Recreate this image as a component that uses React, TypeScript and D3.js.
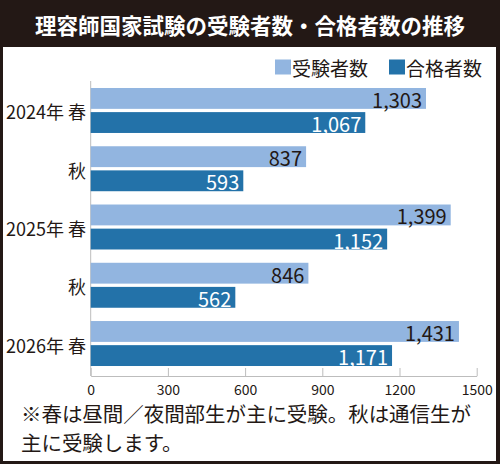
import React, { useRef, useEffect } from 'react';
import * as d3 from 'd3';

const categories = ["2024年 春", "秋", "2025年 春", "秋", "2026年 春"];
const examinees = [1303, 837, 1399, 846, 1431];
const passers = [1067, 593, 1152, 562, 1171];
const xTicks = [0, 300, 600, 900, 1200, 1500];
const seriesNames = ["受験者数", "合格者数"];
const title = "理容師国家試験の受験者数・合格者数の推移";
const noteLines = ["※春は昼間／夜間部生が主に受験。秋は通信生が", "主に受験します。"];

const FONT = "'Noto Sans CJK JP', 'Noto Sans', sans-serif";
const DARK = "#231815";
const LIGHT_BLUE = "#92b5e0";
const DARK_BLUE = "#2372a9";
const AXIS_GRAY = "#bdbdbd";

function App() {
  const svgRef = useRef(null);

  useEffect(() => {
    const svg = d3.select(svgRef.current);
    svg.selectAll("*").remove();

    const width = 500;
    const height = 464;

    // frame + title bar
    svg.append("rect").attr("width", width).attr("height", height).attr("fill", DARK);
    svg.append("rect")
      .attr("x", 3).attr("y", 47)
      .attr("width", 493).attr("height", 414)
      .attr("fill", "#fff");

    svg.append("text")
      .attr("x", 250).attr("y", 24)
      .attr("text-anchor", "middle")
      .attr("dominant-baseline", "central")
      .attr("font-family", FONT)
      .attr("font-weight", "bold")
      .attr("font-size", 21.5)
      .attr("fill", "#fff")
      .text(title);

    const x = d3.scaleLinear().domain([0, 1500]).range([90.7, 476.7]);

    const y = d3.scaleBand()
      .domain(d3.range(categories.length))
      .range([81, 373])
      .paddingInner(0.228)
      .paddingOuter(0.12);

    const sub = d3.scaleBand()
      .domain(seriesNames)
      .range([0, y.bandwidth()])
      .paddingInner(0.135);

    const series = [
      { name: seriesNames[0], values: examinees, color: LIGHT_BLUE, label: DARK },
      { name: seriesNames[1], values: passers, color: DARK_BLUE, label: "#fff" },
    ];

    // y axis line
    svg.append("line")
      .attr("x1", x(0)).attr("x2", x(0))
      .attr("y1", 81).attr("y2", 376)
      .attr("stroke", AXIS_GRAY).attr("stroke-width", 1);

    series.forEach(s => {
      const g = svg.append("g");
      g.selectAll("rect")
        .data(s.values)
        .enter().append("rect")
        .attr("x", x(0))
        .attr("y", (d, i) => y(i) + sub(s.name))
        .attr("width", d => x(d) - x(0))
        .attr("height", sub.bandwidth())
        .attr("fill", s.color);

      g.selectAll("text")
        .data(s.values)
        .enter().append("text")
        .attr("x", d => x(d) - 4)
        .attr("y", (d, i) => y(i) + sub(s.name) + sub.bandwidth() / 2 + 1)
        .attr("text-anchor", "end")
        .attr("dominant-baseline", "central")
        .attr("font-family", FONT)
        .attr("font-size", 20)
        .attr("fill", s.label)
        .text(d => d3.format(",")(d));
    });

    // category labels
    svg.append("g")
      .selectAll("text")
      .data(categories)
      .enter().append("text")
      .attr("x", 86)
      .attr("y", (d, i) => y(i) + y.bandwidth() / 2 + 1)
      .attr("text-anchor", "end")
      .attr("dominant-baseline", "central")
      .attr("font-family", FONT)
      .attr("font-size", 18)
      .attr("fill", DARK)
      .text(d => d);

    // x axis
    const xAxis = svg.append("g")
      .attr("transform", "translate(0,376)")
      .call(d3.axisBottom(x).tickValues(xTicks).tickSizeInner(-8).tickSizeOuter(0).tickPadding(9).tickFormat(d3.format("d")));
    xAxis.select(".domain").attr("stroke", AXIS_GRAY);
    xAxis.selectAll(".tick line").attr("stroke", AXIS_GRAY);
    xAxis.selectAll(".tick text")
      .attr("font-family", FONT)
      .attr("font-size", 14)
      .attr("fill", DARK);

    // legend
    const legend = svg.append("g")
      .selectAll("g")
      .data(series)
      .enter().append("g")
      .attr("transform", (d, i) => `translate(${i === 0 ? 275 : 389},0)`);
    legend.append("rect")
      .attr("x", 0).attr("y", 59.5)
      .attr("width", 16).attr("height", 15)
      .attr("fill", d => d.color);
    legend.append("text")
      .attr("x", 17).attr("y", 67)
      .attr("dominant-baseline", "central")
      .attr("font-family", FONT)
      .attr("font-size", 19)
      .attr("fill", DARK)
      .text(d => d.name);

    // footnote
    svg.append("g")
      .selectAll("text")
      .data(noteLines)
      .enter().append("text")
      .attr("x", 21)
      .attr("y", (d, i) => 421.5 + i * 29)
      .attr("font-family", FONT)
      .attr("font-size", 20.5)
      .attr("letter-spacing", -0.05)
      .attr("fill", DARK)
      .text(d => d);
  }, []);

  return (
    <svg
      ref={svgRef}
      width={500}
      height={464}
      viewBox="0 0 500 464"
      style={{ position: "absolute", left: 0, top: 0, display: "block" }}
    />
  );
}

export default App;
